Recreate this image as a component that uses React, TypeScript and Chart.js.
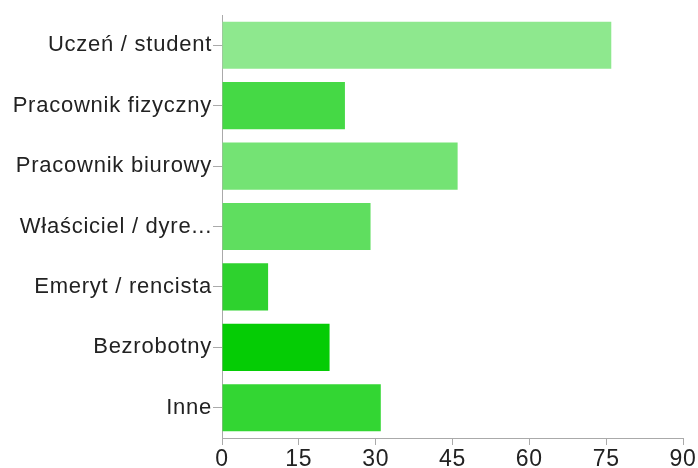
import React, { useEffect, useRef } from "react";
import { Chart, registerables } from "chart.js";

Chart.register(...registerables);

const categories = [
  "Uczeń / student",
  "Pracownik fizyczny",
  "Pracownik biurowy",
  "Właściciel / dyre...",
  "Emeryt / rencista",
  "Bezrobotny",
  "Inne",
];
const counts = [76, 24, 46, 29, 9, 21, 31];
const barColors = ["#8ee88e", "#45d945", "#74e374", "#5fde5f", "#2ed22e", "#05cc05", "#33d633"];
const xTicks = [0, 15, 30, 45, 60, 75, 90];

// Slightly wider lettering for the category labels; x axis is drawn after the bars with normal spacing.
const letterSpacingPlugin = {
  id: "labelSpacing",
  beforeDraw(chart: any) {
    chart.ctx.letterSpacing = "0.75px";
  },
  beforeDatasetsDraw(chart: any) {
    chart.ctx.letterSpacing = "0px";
  },
};

export default function App() {
  const canvasRef = useRef<HTMLCanvasElement | null>(null);

  useEffect(() => {
    const canvas = canvasRef.current;
    if (!canvas) return;
    const chart = new Chart(canvas, {
      type: "bar",
      data: {
        labels: categories,
        datasets: [
          {
            data: counts,
            backgroundColor: barColors,
            borderWidth: 0,
            barPercentage: 0.78,
            categoryPercentage: 1,
          },
        ],
      },
      plugins: [letterSpacingPlugin],
      options: {
        indexAxis: "y",
        animation: false,
        responsive: false,
        maintainAspectRatio: false,
        layout: { padding: { top: 15, right: 15, left: 0, bottom: 0 } },
        plugins: { legend: { display: false }, tooltip: { enabled: false } },
        scales: {
          x: {
            min: 0,
            max: 90,
            z: 1,
            afterBuildTicks: (scale: any) => {
              scale.ticks = xTicks.map((v) => ({ value: v }));
            },
            afterFit: (scale: any) => {
              scale.height = 30;
            },
            grid: {
              drawOnChartArea: false,
              drawTicks: true,
              tickLength: 7,
              color: "#aaaaaa",
            },
            border: { display: true, color: "#aaaaaa", width: 1 },
            ticks: {
              color: "#222222",
              padding: 1,
              maxRotation: 0,
              font: { family: "'Liberation Sans', Arial, sans-serif", size: 23 },
            },
          },
          y: {
            afterFit: (scale: any) => {
              scale.width = 222;
            },
            grid: {
              offset: false,
              drawOnChartArea: false,
              drawTicks: true,
              tickLength: 9,
              color: "#aaaaaa",
            },
            border: { display: true, color: "#aaaaaa", width: 1 },
            ticks: {
              color: "#222222",
              padding: 1,
              font: { family: "'Liberation Sans', Arial, sans-serif", size: 22 },
            },
          },
        },
      },
    });
    return () => chart.destroy();
  }, []);

  return (
    <div style={{ position: "fixed", left: 0, top: 0, width: 698, height: 468, background: "#ffffff", overflow: "hidden" }}>
      <canvas ref={canvasRef} width={698} height={468} style={{ display: "block", width: 698, height: 468 }} />
    </div>
  );
}
